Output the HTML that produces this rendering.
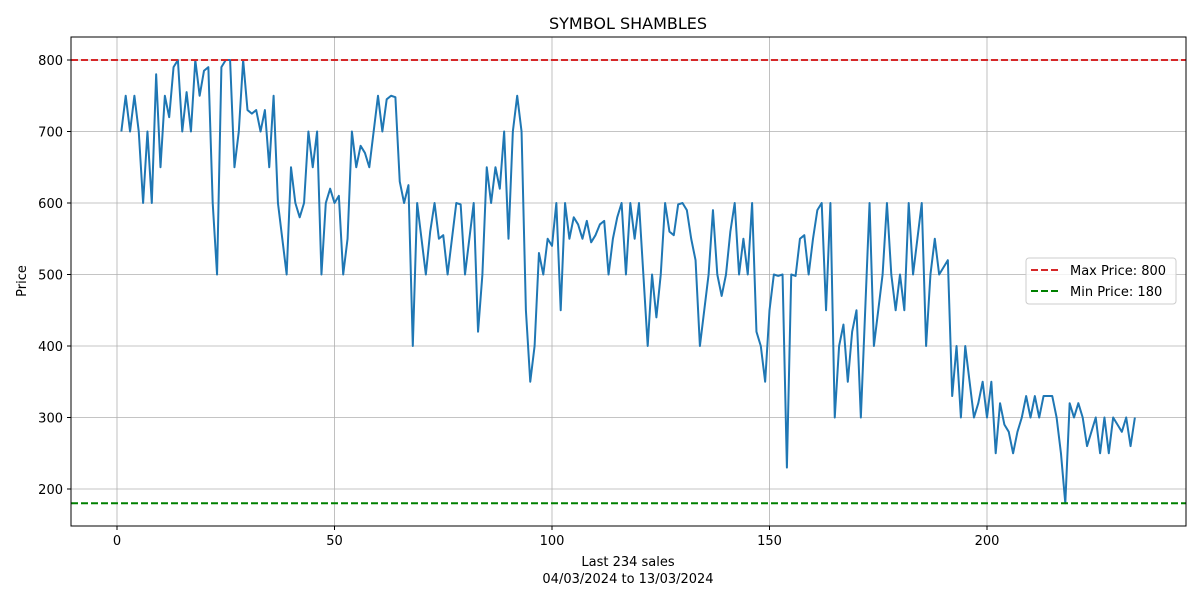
<!DOCTYPE html>
<html><head><meta charset="utf-8"><style>
body{margin:0;background:#fff;font-family:"Liberation Sans","DejaVu Sans",sans-serif}
svg text{font-family:"DejaVu Sans","Liberation Sans",sans-serif}
</style></head><body>
<svg id="chart" width="1200" height="600" xmlns="http://www.w3.org/2000/svg">
<rect width="1200" height="600" fill="#fff"/>
<g id="grid"></g>
<g id="lines"></g>
<rect x="71" y="37" width="1115" height="489" fill="none" stroke="#000" stroke-width="1"/>
<g id="ticks"></g>
<text x="628" y="29" font-size="16" text-anchor="middle">SYMBOL SHAMBLES</text>
<text x="628" y="566" font-size="13" text-anchor="middle">Last 234 sales</text>
<text x="628" y="583" font-size="13" text-anchor="middle">04/03/2024 to 13/03/2024</text>
<text x="26" y="281" font-size="13" text-anchor="middle" transform="rotate(-90 26 281)">Price</text>
<g>
<rect x="1026" y="258" width="150" height="46" rx="3" fill="#fff" fill-opacity="0.8" stroke="#ccc"/>
<line x1="1031" y1="270" x2="1059" y2="270" stroke="#d62728" stroke-width="2" stroke-dasharray="7,3"/>
<text x="1070" y="275" font-size="13">Max Price: 800</text>
<line x1="1031" y1="291" x2="1059" y2="291" stroke="#008000" stroke-width="2" stroke-dasharray="7,3"/>
<text x="1070" y="296" font-size="13">Min Price: 180</text>
</g>
</svg>
<script>
const prices=[700,750,700,750,700,600,700,600,780,650,750,720,790,800,700,755,700,800,750,785,790,600,500,790,800,800,650,700,800,730,725,730,700,730,650,750,600,550,500,650,600,580,600,700,650,700,500,600,620,600,610,500,550,700,650,680,670,650,700,750,700,745,750,748,630,600,625,400,600,550,500,560,600,550,555,500,550,600,598,500,550,600,420,500,650,600,650,620,700,550,700,750,700,450,350,400,530,500,550,540,600,450,600,550,580,570,550,575,545,555,570,575,500,550,580,600,500,600,550,600,500,400,500,440,500,600,560,555,598,600,590,550,520,400,450,500,590,500,470,500,560,600,500,550,500,600,420,400,350,450,500,498,500,230,500,498,550,555,500,550,590,600,450,600,300,400,430,350,420,450,300,450,600,400,450,500,600,500,450,500,450,600,500,550,600,400,500,550,500,510,520,330,400,300,400,350,300,320,350,300,350,250,320,290,280,250,280,300,330,300,330,300,330,330,330,300,250,180,320,300,320,300,260,280,300,250,300,250,300,290,280,300,260,300];
const xTicks=[0,50,100,150,200];
const yTicks=[200,300,400,500,600,700,800];
const maxPrice=800;
const minPrice=180;
const NS="http://www.w3.org/2000/svg";
function sx(v){return 117+v*4.35;}
function sy(v){return 60+(800-v)*0.715;}
function mk(t,a,p){const e=document.createElementNS(NS,t);for(const k in a)e.setAttribute(k,a[k]);p.appendChild(e);return e;}
const grid=document.getElementById('grid'),ticks=document.getElementById('ticks'),lines=document.getElementById('lines');
xTicks.forEach(t=>{const x=sx(t);
const g=mk('line',{x1:x,x2:x,y1:37,y2:526,stroke:'#b0b0b0','stroke-width':0.8},grid);


mk('line',{x1:x,x2:x,y1:526,y2:530,stroke:'#000'},ticks);
const l=mk('text',{x:x,y:545,'font-size':13,'text-anchor':'middle'},ticks);l.textContent=t;

});
yTicks.forEach(t=>{const y=sy(t);
const g=mk('line',{x1:71,x2:1186,y1:y,y2:y,stroke:'#b0b0b0','stroke-width':0.8},grid);


mk('line',{x1:67,x2:71,y1:y,y2:y,stroke:'#000'},ticks);
const l=mk('text',{x:63,y:y+5,'font-size':13,'text-anchor':'end'},ticks);l.textContent=t;

});
const pts=prices.map((v,i)=>sx(i+1).toFixed(2)+','+sy(v).toFixed(2)).join(' ');
const pl=mk('polyline',{points:pts,fill:'none',stroke:'#1f77b4','stroke-width':2,'stroke-linejoin':'round'},lines);


const mx=mk('line',{x1:71,x2:1186,y1:sy(maxPrice),y2:sy(maxPrice),stroke:'#d62728','stroke-width':2,'stroke-dasharray':'7,3'},lines);


const mn=mk('line',{x1:71,x2:1186,y1:sy(minPrice),y2:sy(minPrice),stroke:'#008000','stroke-width':2,'stroke-dasharray':'7,3'},lines);


</script>
</body></html>
